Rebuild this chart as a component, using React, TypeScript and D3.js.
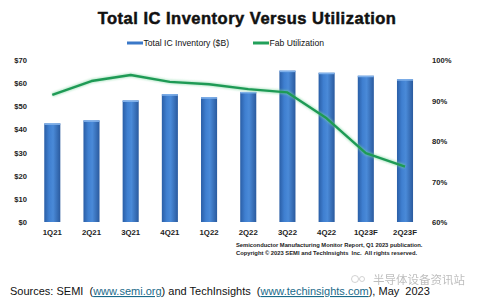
import React from "react";
import * as d3 from "d3";

const quarters = ["1Q21", "2Q21", "3Q21", "4Q21", "1Q22", "2Q22", "3Q22", "4Q22", "1Q23F", "2Q23F"];
const inventory = [42.6, 43.9, 52.5, 55.2, 53.9, 56.2, 65.4, 64.5, 63.2, 61.7];
const utilization = [91.4, 94.8, 96.3, 94.6, 94.0, 92.8, 92.0, 85.6, 77.0, 73.7];
const leftTicks = [0, 10, 20, 30, 40, 50, 60, 70];
const rightTicks = [60, 70, 80, 90, 100];

const W = 484;
const H = 304;
const top = 60;
const bottom = 222;

export default function App() {
  const x = d3.scaleBand<string>().domain(quarters).range([32.7, 424.6]).paddingInner(0.59).paddingOuter(0.295);
  const yL = d3.scaleLinear().domain([0, 70]).range([bottom, top]);
  const yR = d3.scaleLinear().domain([60, 100]).range([bottom, top]);
  const cx = (q: string) => (x(q) as number) + x.bandwidth() / 2;
  const line = d3
    .line<number>()
    .x((_, i) => cx(quarters[i]))
    .y((d) => yR(d))
    .curve(d3.curveLinear);
  const font = "Arial, 'Liberation Sans', sans-serif";
  const pre = { whiteSpace: "pre" as const };

  return (
    <svg width={W} height={H} style={{ position: "absolute", left: 0, top: 0, background: "#fff" }} fontFamily={font}>
      <defs>
        <linearGradient id="barGrad" x1="0" x2="1" y1="0" y2="0">
          <stop offset="0" stopColor="#2a5ea6" />
          <stop offset="0.3" stopColor="#3f7fd0" />
          <stop offset="0.55" stopColor="#4a8ad8" />
          <stop offset="1" stopColor="#2a5a9e" />
        </linearGradient>
        <filter id="glow" x="-10%" y="-20%" width="120%" height="140%">
          <feGaussianBlur stdDeviation="1" />
        </filter>
      </defs>
      <rect width={W} height={H} fill="#fff" />
      <text x={247} y={24} textAnchor="middle" fontSize={16.5} fontWeight="bold" fill="#111" stroke="#111" strokeWidth={0.5} letterSpacing={0.5}>
        Total IC Inventory Versus Utilization
      </text>

      {/* legend */}
      <rect x={127} y={41.5} width={16} height={3} fill="#3a78c8" />
      <text x={143.5} y={46} fontSize={8.6} fill="#111">Total IC Inventory ($B)</text>
      <rect x={253} y={41.5} width={16} height={3} fill="#22a05a" />
      <text x={269.5} y={46} fontSize={8.6} fill="#111">Fab Utilization</text>

      {/* left axis */}
      {leftTicks.map((t) => (
        <text key={t} x={27} y={yL(t) + 3} textAnchor="end" fontSize={7.6} fontWeight="bold" fill="#222">
          {`$${t}`}
        </text>
      ))}
      {/* right axis */}
      {rightTicks.map((t) => (
        <text key={t} x={432} y={yR(t) + 3} fontSize={7.6} fontWeight="bold" fill="#222">
          {`${t}%`}
        </text>
      ))}

      {/* bars */}
      {quarters.map((q, i) => (
        <g key={q}>
          <rect x={x(q)} y={yL(inventory[i])} width={x.bandwidth()} height={bottom - yL(inventory[i])} fill="url(#barGrad)" />
          <rect x={x(q)} y={yL(inventory[i])} width={x.bandwidth()} height={1.5} fill="#7fb0ea" />
        </g>
      ))}

      {/* category labels */}
      {quarters.map((q) => (
        <text key={q} x={cx(q)} y={235} textAnchor="middle" fontSize={7.8} fontWeight="bold" fill="#222">
          {q}
        </text>
      ))}

      {/* utilization line */}
      <path d={line(utilization) ?? ""} fill="none" stroke="#7fd6a0" strokeWidth={4} opacity={0.6} filter="url(#glow)" />
      <path d={line(utilization) ?? ""} fill="none" stroke="#1e9a55" strokeWidth={2.4} strokeLinejoin="round" />

      {/* report note */}
      <text x={236} y={247} fontSize={5.8} fontWeight="bold" fill="#222" style={pre}>
        Semiconductor Manufacturing Monitor Report, Q1 2023 publication.
      </text>
      <text x={236} y={255} fontSize={5.8} fontWeight="bold" fill="#222" style={pre}>
        {"Copyright © 2023 SEMI and TechInsights  Inc.  All rights reserved."}
      </text>

      {/* watermark */}
      <g opacity={0.55}>
        <circle cx={355} cy={279} r={3.5} fill="none" stroke="#999" strokeWidth={0.8} />
        <circle cx={362} cy={279} r={2.5} fill="none" stroke="#999" strokeWidth={0.8} />
        <text x={373} y={283.5} fontSize={11.5} fill="#888" fontFamily="'Noto Sans CJK SC', sans-serif">
          半导体设备资讯站
        </text>
      </g>

      {/* sources */}
      <text x={10} y={295} fontSize={11} fill="#111" style={pre}>
        <tspan>{"Sources: SEMI  ("}</tspan>
        <tspan fill="#1a6a8a" textDecoration="underline">www.semi.org</tspan>
        <tspan>{") and TechInsights  ("}</tspan>
        <tspan fill="#1a6a8a" textDecoration="underline">www.techinsights.com</tspan>
        <tspan>{"), May  2023"}</tspan>
      </text>
    </svg>
  );
}
